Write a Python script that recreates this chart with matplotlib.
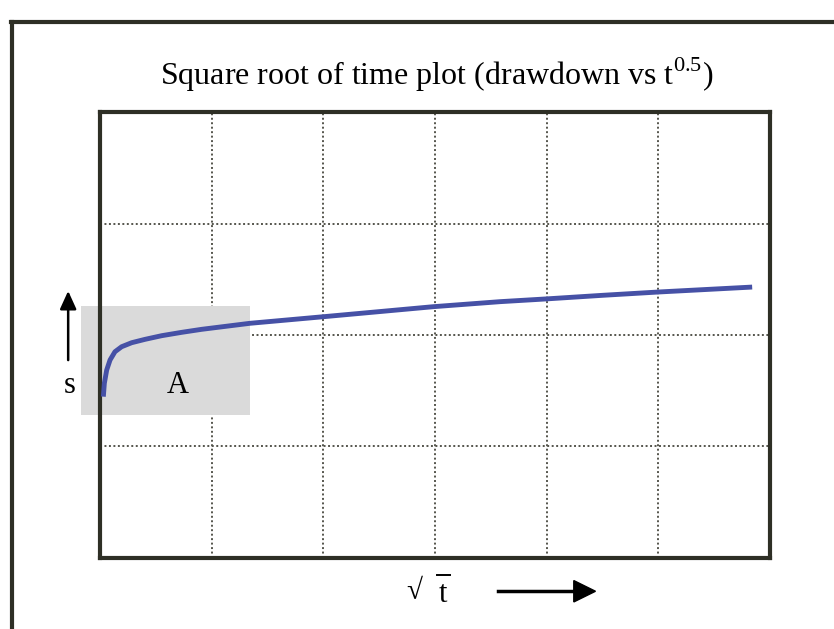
import matplotlib
matplotlib.use("Agg")
import matplotlib.pyplot as plt
from matplotlib.patches import Rectangle, Polygon
from matplotlib.lines import Line2D

plt.rcParams['font.family'] = ['Liberation Serif', 'DejaVu Serif']

# square root of time vs drawdown (one grid cell = 1 unit)
sqrt_t = [0.030, 0.039, 0.060, 0.090, 0.134, 0.194, 0.284, 0.403, 0.553, 0.732,
          0.911, 1.343, 2.0, 2.985, 3.582, 3.985, 4.5, 5.006, 5.84]
drawdown = [1.447, 1.567, 1.686, 1.776, 1.850, 1.895, 1.931, 1.961, 1.994, 2.024,
            2.051, 2.105, 2.164, 2.254, 2.299, 2.323, 2.356, 2.386, 2.43]

x_grid = [1, 2, 3, 4, 5]
y_grid = [1, 2, 3]

# early time region "A"
box_x = (-0.17, 1.34)
box_y = (1.28, 2.26)

ink = '#2e2f25'

fig = plt.figure(figsize=(8.34, 6.29), dpi=100)
ax = fig.add_axes([0.1199, 0.1129, 0.8034, 0.709])
ax.set_xlim(0, 6)
ax.set_ylim(0, 4)
ax.set_xticks([])
ax.set_yticks([])
for sp in ax.spines.values():
    sp.set_linewidth(3)
    sp.set_color(ink)

for gx in x_grid:
    ax.axvline(gx, color='#55554d', lw=1.4, ls=(0, (1, 1.3)), zorder=1)
for gy in y_grid:
    ax.axhline(gy, color='#55554d', lw=1.4, ls=(0, (1, 1.3)), zorder=1)

ax.add_patch(Rectangle((box_x[0], box_y[0]), box_x[1] - box_x[0], box_y[1] - box_y[0],
                       facecolor='#dadada', edgecolor='none', zorder=2, clip_on=False))

ax.plot(sqrt_t, drawdown, color='#4651a6', lw=3.5, zorder=3,
        solid_capstyle='butt', solid_joinstyle='round')

ax.text(0.7, 1.55, 'A', fontsize=22, ha='center', va='center', zorder=4)
ax.text(-0.27, 1.55, 's', fontsize=22, ha='center', va='center', clip_on=False)
ax.annotate('', xy=(-0.285, 2.42), xytext=(-0.285, 1.75), annotation_clip=False,
            arrowprops=dict(arrowstyle='-|>,head_length=1.1,head_width=0.5',
                            color='black', lw=1.8))

fig.text(0.523, 0.881, r'Square root of time plot (drawdown vs t$^{\mathregular{0.5}}$)',
         fontsize=23, ha='center', va='center')

# x label: sqrt t with a bar over the t, then an arrow
fig.text(0.497, 0.058, '\u221a', fontsize=21, ha='center', va='center')
fig.text(0.531, 0.055, 't', fontsize=22, ha='center', va='center')
fig.add_artist(Line2D([0.524, 0.539], [0.086, 0.086], color='black', lw=1.4))
fig.add_artist(Line2D([0.597, 0.69], [0.06, 0.06], color='black', lw=2.5))
fig.patches.append(Polygon([[0.688, 0.077], [0.714, 0.06], [0.688, 0.043]],
                           closed=True, color='black', transform=fig.transFigure,
                           figure=fig))

# outer frame
fig.add_artist(Line2D([0.0144, 0.0144], [0.0, 0.965], color=ink, lw=3))
fig.add_artist(Line2D([0.0126, 1.0], [0.965, 0.965], color=ink, lw=3))

fig.savefig('out.png', dpi=100, facecolor='white')
